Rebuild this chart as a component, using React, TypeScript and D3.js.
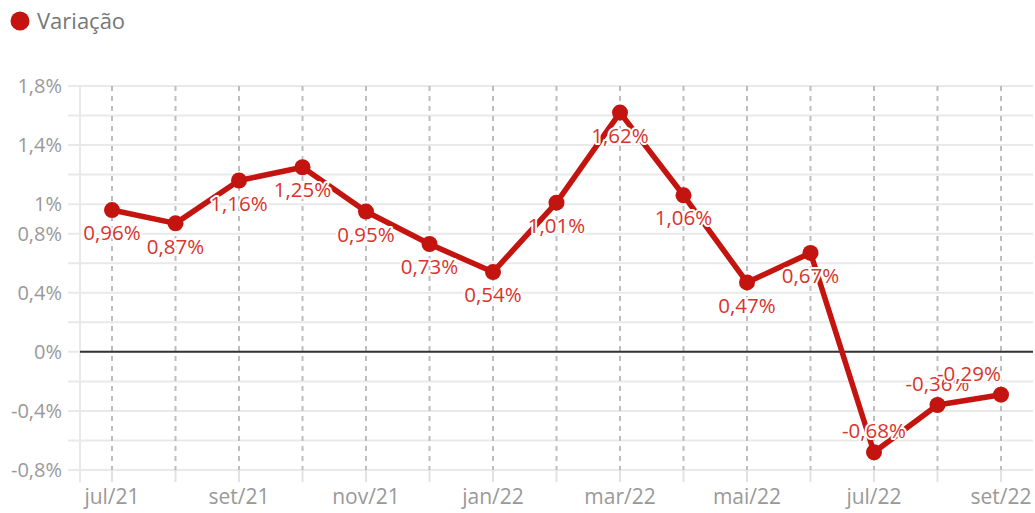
import React from "react";
import * as d3 from "d3";

const months = ["jul/21","ago/21","set/21","out/21","nov/21","dez/21","jan/22","fev/22","mar/22","abr/22","mai/22","jun/22","jul/22","ago/22","set/22"];
const values = [0.96,0.87,1.16,1.25,0.95,0.73,0.54,1.01,1.62,1.06,0.47,0.67,-0.68,-0.36,-0.29];
const gridTicks = [1.8,1.6,1.4,1.2,1.0,0.8,0.6,0.4,0.2,0,-0.2,-0.4,-0.6,-0.8];
const labeledTicks = [1.8,1.4,1.0,0.8,0.4,0,-0.4,-0.8];
const labeledMonths = ["jul/21","set/21","nov/21","jan/22","mar/22","mai/22","jul/22","set/22"];
const seriesName = "Variação";

const W = 1035, H = 513;
const RED = "#c4140f";
const LABEL_RED = "#d8342d";
const FONT = "'Open Sans', sans-serif";

const fmt = (v: number) => {
  const s = Math.abs(v) === 1 ? "1" : String(Math.round(v * 100) / 100);
  return s.replace(".", ",") + "%";
};
const fmtTick = (v: number) => {
  const r = Math.round(v * 10) / 10;
  return String(r).replace(".", ",") + "%";
};

export default function App() {
  const x = d3.scalePoint<string>().domain(months).range([112, 1001]);
  const y = d3.scaleLinear().domain([-0.8, 1.8]).range([470, 86]);
  const left = 80, right = 1033;
  const line = d3.line<number>().x((_, i) => x(months[i])!).y(d => y(d));
  const yTop = y(1.8), yBot = y(-0.8);
  const labelMaxRight = 1001;
  const halfLabel = 31;

  return (
    <svg width={W} height={H} style={{ position: "absolute", left: 0, top: 0, background: "#fff" }} fontFamily={FONT}>
      {/* legend */}
      <circle cx={20} cy={21} r={9.5} fill={RED} />
      <text x={37} y={21} dy="0.35em" fontSize={22} fill="#777">{seriesName}</text>

      {/* horizontal grid */}
      {gridTicks.map(t => (
        <line key={"g" + t} x1={68} x2={right} y1={y(t)} y2={y(t)} stroke="#e9e9e9" strokeWidth={2} />
      ))}
      {/* left axis line */}
      <line x1={left} x2={left} y1={yTop} y2={yBot + 12} stroke="#e9e9e9" strokeWidth={2} />
      {/* vertical dashed lines */}
      {months.map(m => (
        <g key={"v" + m}>
          <line x1={x(m)} x2={x(m)} y1={yTop} y2={yBot} stroke="#bdbdbd" strokeWidth={2} strokeDasharray="5,5" />
          <line x1={x(m)} x2={x(m)} y1={yBot} y2={yBot + 12} stroke="#e2e2e2" strokeWidth={2} />
        </g>
      ))}
      {/* zero line */}
      <line x1={left} x2={right} y1={y(0)} y2={y(0)} stroke="#333" strokeWidth={2} />

      {/* y labels */}
      {labeledTicks.map(t => (
        <text key={"yl" + t} x={62} y={y(t)} dy="0.35em" textAnchor="end" fontSize={20} fill="#999">{fmtTick(t)}</text>
      ))}
      {/* x labels */}
      {labeledMonths.map(m => (
        <text key={"xl" + m} x={x(m)} y={497} dy="0.35em" textAnchor="middle" fontSize={21} fill="#999">{m}</text>
      ))}

      {/* line */}
      <path d={line(values) || ""} fill="none" stroke={RED} strokeWidth={5.5} strokeLinejoin="round" />
      {values.map((v, i) => (
        <circle key={"p" + i} cx={x(months[i])} cy={y(v)} r={8} fill={RED} />
      ))}
      {/* data labels */}
      {values.map((v, i) => {
        const px = x(months[i])!;
        const overflow = px + halfLabel > labelMaxRight;
        return (
          <text key={"l" + i} x={overflow ? labelMaxRight : px} y={y(v) + (v >= 0 ? 23 : -21)} dy="0.35em"
            textAnchor={overflow ? "end" : "middle"}
            fontSize={20.5} fill={LABEL_RED} stroke="#fff" strokeWidth={4} strokeLinejoin="round"
            style={{ paintOrder: "stroke" }}>{fmt(v)}</text>
        );
      })}
    </svg>
  );
}
